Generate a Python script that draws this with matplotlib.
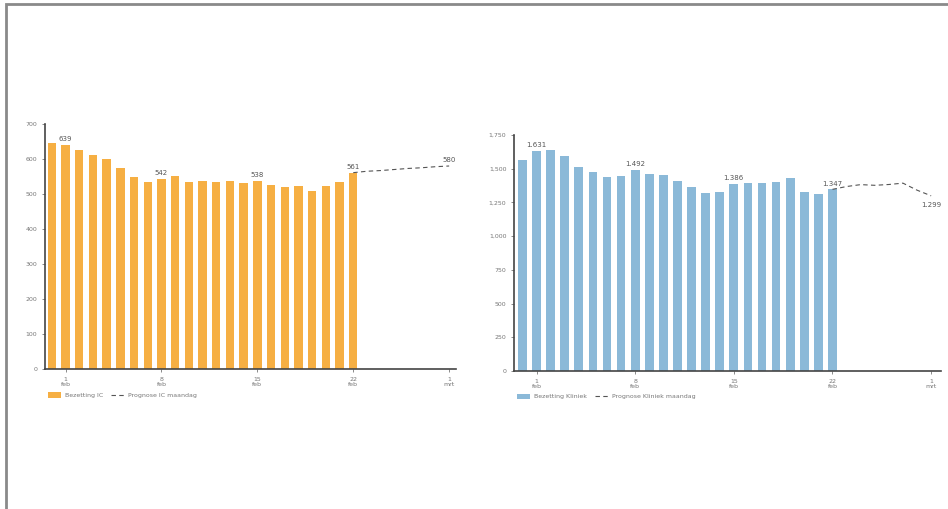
import pandas as pd
import matplotlib.pyplot as plt
import matplotlib.dates as mdates
from matplotlib.patches import Rectangle

# Data: bezetting 31 jan t/m 22 feb, prognose 22 feb t/m 1 mrt
bar_dates = pd.date_range("2021-01-31", "2021-02-22")
ic_values = [645, 639, 627, 611, 600, 574, 548, 534, 542, 551, 533, 536,
             534, 537, 531, 538, 527, 520, 524, 509, 522, 534, 561]
kliniek_values = [1562, 1631, 1638, 1594, 1512, 1475, 1436, 1443, 1492, 1460,
                  1455, 1411, 1366, 1319, 1325, 1386, 1396, 1396, 1403, 1431,
                  1329, 1312, 1347]

prog_dates = pd.date_range("2021-02-22", "2021-03-01")
ic_prognose = [561, 565, 567, 570, 573, 575, 578, 580]
kliniek_prognose = [1347, 1368, 1382, 1377, 1383, 1393, 1341, 1299]

tick_dates = pd.to_datetime(["2021-02-01", "2021-02-08", "2021-02-15",
                             "2021-02-22", "2021-03-01"])
tick_labels = ["1\nfeb", "8\nfeb", "15\nfeb", "22\nfeb", "1\nmrt"]

ic_labels = {"2021-02-01": "639", "2021-02-08": "542", "2021-02-15": "538",
             "2021-02-22": "561"}
kliniek_labels = {"2021-02-01": "1.631", "2021-02-08": "1.492",
                  "2021-02-15": "1.386", "2021-02-22": "1.347"}

text_color = "#777777"
fig = plt.figure(figsize=(9.48, 5.09), dpi=100)
fig.patches.append(Rectangle((6 / 948, -0.1), 1.2, (509 - 4) / 509 + 0.1,
                             transform=fig.transFigure, fill=False,
                             edgecolor="#8a8a8a", linewidth=2))

W, H = 948, 509


def make_ax(left, right, top, bottom):
    return fig.add_axes([left / W, 1 - bottom / H, (right - left) / W, (bottom - top) / H])


def draw(ax, values, prognose, labels, ymax, ystep, color, bar_name, prog_name,
         xlim_days, fmt, end_label):
    x0 = mdates.date2num(pd.Timestamp("2021-02-01"))
    bars = ax.bar(bar_dates, values, width=0.62, color=color, label=bar_name, zorder=2)
    line, = ax.plot(prog_dates, prognose, color="#555555", linestyle=(0, (4, 3)),
                    linewidth=0.8, label=prog_name, zorder=3)
    for d, txt in labels.items():
        i = list(bar_dates).index(pd.Timestamp(d))
        ax.text(bar_dates[i], values[i] + ymax * 0.012, txt, ha="center", va="bottom",
                fontsize=5, color="#555555")
    if end_label == "above":
        ax.text(prog_dates[-1], prognose[-1] + ymax * 0.012, fmt(prognose[-1]),
                ha="center", va="bottom", fontsize=5, color="#555555")
    else:
        ax.text(prog_dates[-1], prognose[-1] - ymax * 0.025, fmt(prognose[-1]),
                ha="center", va="top", fontsize=5, color="#555555")
    ax.set_xlim(x0 + xlim_days[0], x0 + xlim_days[1])
    ax.set_ylim(0, ymax)
    yt = list(range(0, ymax + 1, ystep))
    ax.set_yticks(yt)
    ax.set_yticklabels([f"{v:,}" for v in yt])
    ax.set_xticks(tick_dates)
    ax.set_xticklabels(tick_labels)
    ax.tick_params(labelsize=4.5, colors=text_color, length=2, width=0.6)
    for s in ["top", "right"]:
        ax.spines[s].set_visible(False)
    for s in ["left", "bottom"]:
        ax.spines[s].set_color("#444444")
        ax.spines[s].set_linewidth(1.2)
    ax.legend(handles=[bars, line], loc="upper left", bbox_to_anchor=(0.0, -0.085),
              ncol=2, frameon=False, fontsize=4.5, labelcolor=text_color,
              handlelength=2.2, handleheight=0.9, columnspacing=1.2,
              handletextpad=0.6, borderaxespad=0)


ax1 = make_ax(45, 456, 124, 369)
draw(ax1, ic_values, ic_prognose, ic_labels, 700, 100, "#F6AF43",
     "Bezetting IC", "Prognose IC maandag", (-1.5, 28.5), lambda v: str(v), "above")

ax2 = make_ax(514, 941, 135, 371)
draw(ax2, kliniek_values, kliniek_prognose, kliniek_labels, 1750, 250, "#8BB9D8",
     "Bezetting Kliniek", "Prognose Kliniek maandag", (-1.6, 28.7),
     lambda v: f"{v:,}".replace(",", "."), "below")

fig.savefig("out.png", dpi=100)
